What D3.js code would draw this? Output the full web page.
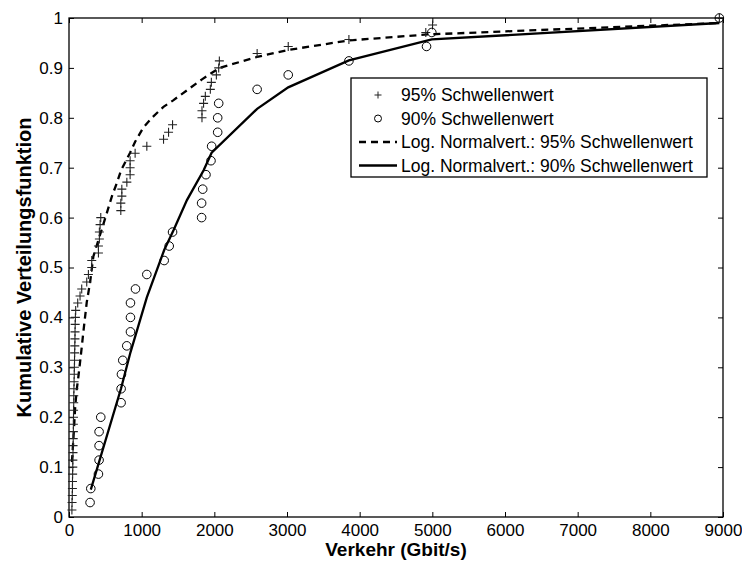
<!DOCTYPE html>
<html>
<head>
<meta charset="utf-8">
<script src="https://cdn.jsdelivr.net/npm/d3@7"></script>
<style>
    body { margin: 0; background: #fff; }
    svg { display: block; font-family: "Liberation Sans", Arial, Helvetica, sans-serif; }
    .tick text { font-size: 17px; fill: #000; }
    .tick line { stroke: #000; }
</style>
</head>
<body>
<svg id="chart" width="742" height="561"></svg>
<script>
// --- Data ---
// 95% threshold samples: [traffic (Gbit/s), cumulative probability]
const samples95 = [
    [40, 0.014], [42, 0.029], [45, 0.043], [47, 0.057], [48, 0.071], [50, 0.086],
    [52, 0.100], [53, 0.114], [55, 0.129], [56, 0.143], [58, 0.157], [60, 0.171],
    [60, 0.186], [62, 0.200], [63, 0.214], [65, 0.229], [66, 0.243], [68, 0.257],
    [70, 0.271], [72, 0.286], [74, 0.300], [76, 0.314], [78, 0.329], [80, 0.343],
    [82, 0.357], [83, 0.371], [85, 0.386], [88, 0.400], [92, 0.414], [120, 0.429],
    [152, 0.443], [175, 0.457], [244, 0.471], [267, 0.486], [313, 0.500], [313, 0.514],
    [405, 0.529], [405, 0.543], [418, 0.557], [418, 0.571], [428, 0.586], [437, 0.600],
    [713, 0.614], [713, 0.629], [727, 0.643], [727, 0.657], [796, 0.671], [841, 0.686],
    [841, 0.700], [841, 0.714], [910, 0.729], [1071, 0.743], [1301, 0.757], [1370, 0.771],
    [1425, 0.786], [1830, 0.800], [1830, 0.814], [1852, 0.829], [1876, 0.843], [1945, 0.857],
    [1959, 0.871], [2028, 0.886], [2060, 0.900], [2069, 0.914], [2589, 0.929], [3017, 0.943],
    [3852, 0.957], [4910, 0.971], [5003, 0.986], [8950, 1.000]
];
// 90% threshold samples
const samples90 = [
    [290, 0.029], [300, 0.057], [405, 0.086], [414, 0.114], [414, 0.143], [414, 0.171],
    [437, 0.200], [717, 0.229], [717, 0.257], [722, 0.286], [740, 0.314], [795, 0.343],
    [846, 0.371], [846, 0.400], [846, 0.429], [915, 0.457], [1071, 0.486], [1310, 0.514],
    [1379, 0.543], [1425, 0.571], [1825, 0.600], [1825, 0.629], [1840, 0.657], [1885, 0.686],
    [1954, 0.714], [1963, 0.743], [2046, 0.771], [2046, 0.800], [2060, 0.829], [2589, 0.857],
    [3017, 0.886], [3852, 0.914], [4920, 0.943], [4993, 0.971], [8950, 1.000]
];
// log-normal fits
const fit95 = [
    [40, 0.11], [60, 0.155], [85, 0.22], [106, 0.255], [128, 0.28], [152, 0.31],
    [175, 0.34], [197, 0.37], [244, 0.43], [290, 0.47], [335, 0.522], [405, 0.555],
    [520, 0.609], [589, 0.642], [658, 0.669], [717, 0.695], [841, 0.73], [910, 0.752],
    [1021, 0.78], [1140, 0.80], [1300, 0.822], [1434, 0.835], [1830, 0.877], [2069, 0.90],
    [2589, 0.922], [3017, 0.936], [3852, 0.955], [4934, 0.967], [8950, 0.99]
];
const fit90 = [
    [300, 0.055], [717, 0.258], [846, 0.33], [1071, 0.44], [1310, 0.535], [1440, 0.575],
    [1623, 0.635], [1853, 0.695], [1963, 0.73], [2589, 0.818], [3017, 0.861],
    [3852, 0.915], [4993, 0.957], [8950, 0.99]
];

const xTicks = [0, 1000, 2000, 3000, 4000, 5000, 6000, 7000, 8000, 9000];
const yTicks = [0, 0.1, 0.2, 0.3, 0.4, 0.5, 0.6, 0.7, 0.8, 0.9, 1];
const legendLabels = [
    '95% Schwellenwert',
    '90% Schwellenwert',
    'Log. Normalvert.: 95% Schwellenwert',
    'Log. Normalvert.: 90% Schwellenwert'
];

const margin = { left: 69, top: 18, right: 723, bottom: 517 };
const svg = d3.select('#chart');

const x = d3.scaleLinear().domain([0, 9000]).range([margin.left, margin.right]);
const y = d3.scaleLinear().domain([0, 1]).range([margin.bottom, margin.top]);

// axes with ticks pointing inward (matlab box style)
svg.append('g')
    .attr('transform', `translate(0,${margin.bottom})`)
    .call(d3.axisBottom(x).tickValues(xTicks).tickSizeInner(-5).tickSizeOuter(0).tickPadding(7).tickFormat(d => d))
    .call(g => g.select('.domain').remove());
svg.append('g')
    .attr('transform', `translate(0,${margin.top})`)
    .call(d3.axisTop(x).tickValues(xTicks).tickSizeInner(-5).tickSizeOuter(0).tickFormat(''))
    .call(g => g.select('.domain').remove());
svg.append('g')
    .attr('transform', `translate(${margin.left},0)`)
    .call(d3.axisLeft(y).tickValues(yTicks).tickSizeInner(-5).tickSizeOuter(0).tickPadding(6).tickFormat(d => String(d)))
    .call(g => g.select('.domain').remove());
svg.append('g')
    .attr('transform', `translate(${margin.right},0)`)
    .call(d3.axisRight(y).tickValues(yTicks).tickSizeInner(-5).tickSizeOuter(0).tickFormat(''))
    .call(g => g.select('.domain').remove());

svg.append('rect')
    .attr('x', margin.left)
    .attr('y', margin.top)
    .attr('width', margin.right - margin.left)
    .attr('height', margin.bottom - margin.top)
    .attr('fill', 'none')
    .attr('stroke', '#000')
    .attr('stroke-width', 1.3);

const line = d3.line().x(d => x(d[0])).y(d => y(d[1]));

svg.append('path')
    .datum(fit95)
    .attr('d', line)
    .attr('fill', 'none')
    .attr('stroke', '#000')
    .attr('stroke-width', 2.3)
    .attr('stroke-dasharray', '7,5');

svg.append('path')
    .datum(fit90)
    .attr('d', line)
    .attr('fill', 'none')
    .attr('stroke', '#000')
    .attr('stroke-width', 2.3);

const plusPath = 'M-4.5,0H4.5M0,-4.5V4.5';

svg.append('g')
    .selectAll('path')
    .data(samples95)
    .join('path')
    .attr('transform', d => `translate(${x(d[0])},${y(d[1])})`)
    .attr('d', plusPath)
    .attr('stroke', '#222')
    .attr('stroke-width', 1.1);

svg.append('g')
    .selectAll('circle')
    .data(samples90)
    .join('circle')
    .attr('cx', d => x(d[0]))
    .attr('cy', d => y(d[1]))
    .attr('r', 4.3)
    .attr('fill', 'none')
    .attr('stroke', '#000')
    .attr('stroke-width', 1);

// axis labels
svg.append('text')
    .attr('x', (margin.left + margin.right) / 2)
    .attr('y', 556)
    .attr('text-anchor', 'middle')
    .attr('font-weight', 'bold')
    .attr('font-size', 19)
    .text('Verkehr (Gbit/s)');

svg.append('text')
    .attr('transform', `translate(31,${(margin.top + margin.bottom) / 2}) rotate(-90)`)
    .attr('text-anchor', 'middle')
    .attr('font-weight', 'bold')
    .attr('font-size', 20)
    .text('Kumulative Verteilungsfunktion');

// legend
const legend = svg.append('g');
legend.append('rect')
    .attr('x', 351)
    .attr('y', 78)
    .attr('width', 356)
    .attr('height', 99)
    .attr('fill', '#fff')
    .attr('stroke', '#000')
    .attr('stroke-width', 1.3);

const rowY = [95, 118.5, 142, 165.5];
legendLabels.forEach((label, i) => {
    const ry = rowY[i];
    if (i === 0) {
        legend.append('path')
            .attr('transform', `translate(378,${ry})`)
            .attr('d', 'M-3.5,0H3.5M0,-3.5V3.5')
            .attr('stroke', '#222')
            .attr('stroke-width', 1);
    } else if (i === 1) {
        legend.append('circle')
            .attr('cx', 378).attr('cy', ry).attr('r', 3.5)
            .attr('fill', 'none').attr('stroke', '#000');
    } else {
        legend.append('line')
            .attr('x1', 359).attr('x2', 397)
            .attr('y1', ry).attr('y2', ry)
            .attr('stroke', '#000')
            .attr('stroke-width', 2.3)
            .attr('stroke-dasharray', i === 2 ? '7,5' : null);
    }
    legend.append('text')
        .attr('x', 401)
        .attr('y', ry + 6)
        .attr('font-size', 17.5)
        .text(label);
});
</script>
</body>
</html>
